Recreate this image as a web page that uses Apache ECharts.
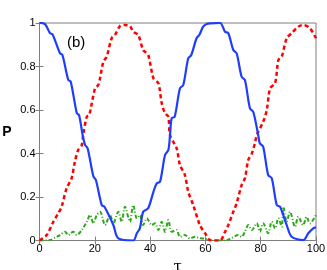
<!DOCTYPE html>
<html><head><meta charset="utf-8">
<script src="https://cdn.jsdelivr.net/npm/echarts@6/dist/echarts.min.js"></script>
<style>html,body{margin:0;padding:0;background:#fff}#c{width:327px;height:270px}</style>
</head><body><div id="c"></div>
<script>
const xTicks = [0, 20, 40, 60, 80, 100];
const yTicks = [0, 0.2, 0.4, 0.6, 0.8, 1];
const blueX = [0,2,3.8,4.7,7.4,8.3,10.4,11.3,13.5,14.3,15.6,16.5,17.4,19.5,20.4,22.5,23.5,26.7,28.5,33.9,35.2,36.3,37.5,39.3,41.2,42.4,43.6,45.4,46.6,47.2,47.8,48.9,50.8,52,53.8,54.9,56.8,57.8,59.2,60.5,61.7,65.3,67.1,68.3,70.1,71.3,73.1,74.3,76.1,77.3,79.1,79.7,80.9,82.7,84,85.8,87,89.4,91.2,95.4,97.2,99,100];
const blueY = [1,0.995,0.953,0.948,0.861,0.853,0.738,0.73,0.585,0.577,0.485,0.439,0.424,0.294,0.278,0.163,0.155,0.071,0.01,0,0.033,0.056,0.132,0.148,0.224,0.263,0.27,0.393,0.416,0.485,0.562,0.569,0.7,0.715,0.838,0.853,0.93,0.945,0.983,0.995,0.998,1,0.96,0.953,0.876,0.861,0.753,0.738,0.608,0.592,0.485,0.447,0.431,0.301,0.286,0.163,0.155,0.071,0.017,0.002,0.033,0.056,0.06];
const redX = [0,2.6,5,6.8,8,9.8,11.6,12.8,14,15.3,15.8,17.1,18,20.1,21.3,23.1,24.3,26.1,27.3,29.1,30.9,32.7,33.9,35.7,37.5,39.3,41.2,43,44.2,45.4,46.6,47.2,49.6,50.8,52.6,53.8,55.6,58,59.9,61.7,65.3,67.1,68.3,70.1,71.3,73.1,74.3,75.5,76.8,77.9,78.6,80.9,82.2,83.4,85.2,86.4,87.6,89.4,91.2,93.6,95.4,97.8,100];
const redY = [0,0.025,0.086,0.125,0.155,0.24,0.286,0.362,0.416,0.439,0.485,0.569,0.577,0.7,0.715,0.822,0.845,0.93,0.945,0.986,0.991,0.986,0.96,0.945,0.876,0.853,0.746,0.723,0.631,0.585,0.569,0.485,0.424,0.347,0.301,0.224,0.163,0.071,0.033,0.002,0,0.04,0.071,0.132,0.171,0.255,0.286,0.37,0.4,0.447,0.485,0.546,0.6,0.7,0.723,0.83,0.845,0.93,0.953,0.983,0.991,0.976,0.93];
const greenX = [0,3.8,6.2,7.4,9.2,10.4,12.2,13.5,15.3,17.1,18.3,19.5,20.7,21.9,23.7,25.5,26.7,28.5,29.7,30.9,32.7,33.9,35.2,36.3,37.5,38.8,40.6,41.8,43,44.2,45.4,46.6,47.8,49.6,50.8,52.6,54.4,56.2,58,59.9,61.7,67.1,68.9,71.9,73.1,74.3,75.5,76.8,78.6,79.7,80.9,82.7,84,85.2,86.4,87.6,88.2,89.4,90.6,92.4,93.6,95.4,96.6,97.8,100];
const greenY = [0,0.002,0.017,0.025,0.04,0.025,0.04,0.025,0.048,0.086,0.117,0.079,0.117,0.132,0.071,0.117,0.079,0.132,0.086,0.155,0.086,0.163,0.102,0.117,0.071,0.102,0.071,0.079,0.048,0.086,0.04,0.094,0.04,0.048,0.017,0.025,0.01,0.017,0.01,0.008,0,0,0.007,0.025,0.017,0.04,0.071,0.048,0.079,0.04,0.079,0.033,0.086,0.056,0.102,0.063,0.155,0.086,0.132,0.063,0.109,0.071,0.109,0.079,0.117];
const zip = (a, b) => a.map((v, i) => [v, b[i]]);
const font = 'Liberation Sans, Arial, sans-serif';
const chart = echarts.init(document.getElementById('c'), null, {renderer: 'canvas'});
const axCol = '#7f7f7f';
chart.setOption({
  animation: false,
  grid: {left: 39.5, right: 11, top: 23, bottom: 29.5, show: true, borderColor: axCol, borderWidth: 1, containLabel: false, outerBoundsMode: 'none'},
  xAxis: [{
    type: 'value', min: 0, max: 100, interval: 20,
    axisLine: {lineStyle: {color: axCol}},
    axisTick: {inside: true, length: 4, lineStyle: {color: axCol}},
    axisLabel: {color: '#000', fontSize: 11, fontFamily: font, margin: 3, formatter: v => xTicks.includes(v) ? String(v) : ''},
    splitLine: {show: false},
    name: 'τ', nameLocation: 'middle', nameGap: 14, nameTextStyle: {color: '#000', fontSize: 15, fontFamily: 'DejaVu Serif, serif'}
  }, {
    type: 'value', min: 0, max: 100, interval: 20, position: 'top',
    axisLine: {lineStyle: {color: axCol}},
    axisTick: {inside: true, length: 4, lineStyle: {color: axCol}},
    axisLabel: {show: false}, splitLine: {show: false}
  }],
  yAxis: [{
    type: 'value', min: 0, max: 1, interval: 0.2,
    axisLine: {show: true, lineStyle: {color: axCol}},
    axisTick: {show: true, inside: true, length: 4, lineStyle: {color: axCol}},
    axisLabel: {color: '#000', fontSize: 11, fontFamily: font, margin: 4, formatter: v => { const t = yTicks.find(k => Math.abs(k - v) < 1e-6); return t === undefined ? '' : String(t); }},
    splitLine: {show: false},
    name: 'P', nameLocation: 'middle', nameGap: 28, nameRotate: 0, nameTextStyle: {color: '#000', fontSize: 14, fontWeight: 'bold', fontFamily: font, padding: [0, 0, 8, 0]}
  }, {
    type: 'value', min: 0, max: 1, interval: 0.2, position: 'right',
    axisLine: {show: true, lineStyle: {color: axCol}},
    axisTick: {show: true, inside: true, length: 4, lineStyle: {color: axCol}},
    axisLabel: {show: false}, splitLine: {show: false}
  }],
  graphic: [{type: 'text', left: 67, top: 35, style: {text: '(b)', fontSize: 15, fontFamily: font, fill: '#000'}}],
  series: [
    {type: 'line', data: zip(greenX, greenY), showSymbol: false, smooth: 0.3, lineStyle: {color: '#2ca81a', width: 2, type: [4, 2, 1, 2]}, z: 2},
    {type: 'line', data: zip(redX, redY), showSymbol: false, smooth: 0.3, lineStyle: {color: '#ff0000', width: 2.5, type: [4, 3]}, z: 3},
    {type: 'line', data: zip(blueX, blueY), showSymbol: false, smooth: 0.3, lineStyle: {color: '#1f3dff', width: 2.2}, z: 4}
  ]
});
</script></body></html>
